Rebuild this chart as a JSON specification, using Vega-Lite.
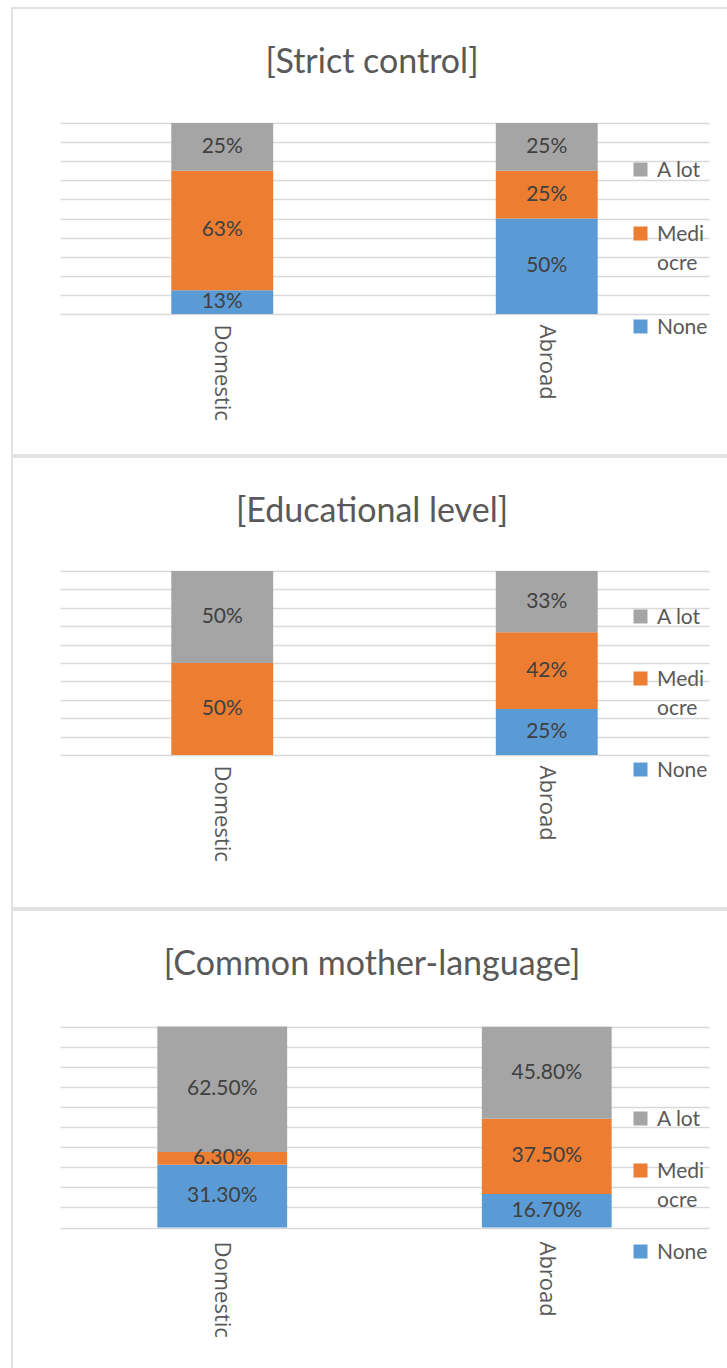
{
  "$schema": "https://vega.github.io/schema/vega-lite/v6.json",
  "background": "white",
  "padding": {"left": 11, "top": 7, "right": 0, "bottom": 0},
  "spacing": 0,
  "resolve": {
    "scale": {"color": "independent", "x": "independent", "y": "independent"},
    "legend": {"color": "independent"}
  },
  "config": {
    "font": "Lato",
    "view": {"stroke": "#d9d9d9", "strokeWidth": 1.5}
  },
  "vconcat": [
    {
      "width": 720,
      "height": 447,
      "title": {"text": "[Strict control]", "orient": "top", "anchor": "middle", "frame": "group", "offset": -99, "baseline": "alphabetic", "font": "Lato", "fontSize": 34, "fontWeight": "normal", "color": "#595959"},
      "data": {"values": [
        {"origin": "Domestic", "level": "None", "share": 0.125},
        {"origin": "Domestic", "level": "Mediocre", "share": 0.625},
        {"origin": "Domestic", "level": "A lot", "share": 0.25},
        {"origin": "Abroad", "level": "None", "share": 0.5},
        {"origin": "Abroad", "level": "Mediocre", "share": 0.25},
        {"origin": "Abroad", "level": "A lot", "share": 0.25}
      ]},
      "layer": [
        {
          "mark": {"type": "bar"},
          "encoding": {
            "x": {"field": "origin", "type": "nominal", "sort": ["Domestic", "Abroad"], "scale": {"range": [48, 697], "paddingInner": 0.686, "paddingOuter": 0.343}, "axis": {"orient": "bottom", "offset": -141, "labelAngle": 90, "labelAlign": "left", "labelBaseline": "middle", "labelPadding": 10, "ticks": false, "domain": false, "title": null, "grid": false, "labelFont": "Open Sans", "labelFontSize": 22, "labelColor": "#595959"}},
            "y": {"field": "share", "type": "quantitative", "stack": "zero", "scale": {"domain": [0, 1], "range": [306, 115], "nice": false}, "axis": {"values": [0, 0.1, 0.2, 0.3, 0.4, 0.5, 0.6, 0.7, 0.8, 0.9, 1], "labels": false, "ticks": false, "domain": false, "title": null, "grid": true, "gridColor": "#d9d9d9", "gridWidth": 1.5}},
            "order": {"field": "level", "type": "ordinal", "sort": "descending"},
            "color": {"field": "level", "type": "nominal", "scale": {"domain": ["A lot", "Mediocre", "None"], "range": ["#a5a5a5", "#ed7d31", "#5b9bd5"]}, "legend": {"title": null, "orient": "none", "legendX": 618, "legendY": 151, "symbolType": "square", "symbolSize": 196, "symbolStrokeWidth": 0, "labelFont": "Lato", "labelFontSize": 21, "labelColor": "#595959", "labelOffset": 6, "rowPadding": 42, "labelBaseline": "alphabetic", "labelExpr": "datum.label == 'Mediocre' ? ['Medi', 'ocre'] : datum.label", "encode": {"labels": {"update": {"dy": {"value": 7}, "lineHeight": {"value": 29}}}}}}
          }
        },
        {
          "mark": {"type": "text", "font": "Lato", "fontSize": 21, "color": "#404040", "baseline": "middle", "align": "center"},
          "encoding": {
            "x": {"field": "origin", "type": "nominal", "sort": ["Domestic", "Abroad"]},
            "y": {"field": "share", "type": "quantitative", "stack": "zero", "bandPosition": 0.5},
            "order": {"field": "level", "type": "ordinal", "sort": "descending"},
            "detail": {"field": "level", "type": "nominal"},
            "text": {"field": "share", "type": "quantitative", "format": ".0%"}
          }
        }
      ]
    },
    {
      "width": 720,
      "height": 451,
      "title": {"text": "[Educational level]", "orient": "top", "anchor": "middle", "frame": "group", "offset": -99, "baseline": "alphabetic", "font": "Lato", "fontSize": 34, "fontWeight": "normal", "color": "#595959"},
      "data": {"values": [
        {"origin": "Domestic", "level": "Mediocre", "share": 0.5},
        {"origin": "Domestic", "level": "A lot", "share": 0.5},
        {"origin": "Abroad", "level": "None", "share": 0.25},
        {"origin": "Abroad", "level": "Mediocre", "share": 0.417},
        {"origin": "Abroad", "level": "A lot", "share": 0.333}
      ]},
      "layer": [
        {
          "mark": {"type": "bar"},
          "encoding": {
            "x": {"field": "origin", "type": "nominal", "sort": ["Domestic", "Abroad"], "scale": {"range": [48, 697], "paddingInner": 0.686, "paddingOuter": 0.343}, "axis": {"orient": "bottom", "offset": -153, "labelAngle": 90, "labelAlign": "left", "labelBaseline": "middle", "labelPadding": 10, "ticks": false, "domain": false, "title": null, "grid": false, "labelFont": "Open Sans", "labelFontSize": 22, "labelColor": "#595959"}},
            "y": {"field": "share", "type": "quantitative", "stack": "zero", "scale": {"domain": [0, 1], "range": [298, 114], "nice": false}, "axis": {"values": [0, 0.1, 0.2, 0.3, 0.4, 0.5, 0.6, 0.7, 0.8, 0.9, 1], "labels": false, "ticks": false, "domain": false, "title": null, "grid": true, "gridColor": "#d9d9d9", "gridWidth": 1.5}},
            "order": {"field": "level", "type": "ordinal", "sort": "descending"},
            "color": {"field": "level", "type": "nominal", "scale": {"domain": ["A lot", "Mediocre", "None"], "range": ["#a5a5a5", "#ed7d31", "#5b9bd5"]}, "legend": {"title": null, "orient": "none", "legendX": 618, "legendY": 149, "symbolType": "square", "symbolSize": 196, "symbolStrokeWidth": 0, "labelFont": "Lato", "labelFontSize": 21, "labelColor": "#595959", "labelOffset": 6, "rowPadding": 40, "labelBaseline": "alphabetic", "labelExpr": "datum.label == 'Mediocre' ? ['Medi', 'ocre'] : datum.label", "encode": {"labels": {"update": {"dy": {"value": 7}, "lineHeight": {"value": 29}}}}}}
          }
        },
        {
          "mark": {"type": "text", "font": "Lato", "fontSize": 21, "color": "#404040", "baseline": "middle", "align": "center"},
          "encoding": {
            "x": {"field": "origin", "type": "nominal", "sort": ["Domestic", "Abroad"]},
            "y": {"field": "share", "type": "quantitative", "stack": "zero", "bandPosition": 0.5},
            "order": {"field": "level", "type": "ordinal", "sort": "descending"},
            "detail": {"field": "level", "type": "nominal"},
            "text": {"field": "share", "type": "quantitative", "format": ".0%"}
          }
        }
      ]
    },
    {
      "width": 720,
      "height": 470,
      "title": {"text": "[Common mother-language]", "orient": "top", "anchor": "middle", "frame": "group", "offset": -99, "baseline": "alphabetic", "font": "Lato", "fontSize": 34, "fontWeight": "normal", "color": "#595959"},
      "data": {"values": [
        {"origin": "Domestic", "level": "None", "share": 0.313},
        {"origin": "Domestic", "level": "Mediocre", "share": 0.063},
        {"origin": "Domestic", "level": "A lot", "share": 0.625},
        {"origin": "Abroad", "level": "None", "share": 0.167},
        {"origin": "Abroad", "level": "Mediocre", "share": 0.375},
        {"origin": "Abroad", "level": "A lot", "share": 0.458}
      ]},
      "layer": [
        {
          "mark": {"type": "bar"},
          "encoding": {
            "x": {"field": "origin", "type": "nominal", "sort": ["Domestic", "Abroad"], "scale": {"range": [48, 697], "paddingInner": 0.6, "paddingOuter": 0.3}, "axis": {"orient": "bottom", "offset": -152, "labelAngle": 90, "labelAlign": "left", "labelBaseline": "middle", "labelPadding": 13, "ticks": false, "domain": false, "title": null, "grid": false, "labelFont": "Open Sans", "labelFontSize": 22, "labelColor": "#595959"}},
            "y": {"field": "share", "type": "quantitative", "stack": "zero", "scale": {"domain": [0, 1], "range": [317.5, 116.7], "nice": false}, "axis": {"values": [0, 0.1, 0.2, 0.3, 0.4, 0.5, 0.6, 0.7, 0.8, 0.9, 1], "labels": false, "ticks": false, "domain": false, "title": null, "grid": true, "gridColor": "#d9d9d9", "gridWidth": 1.5}},
            "order": {"field": "level", "type": "ordinal", "sort": "descending"},
            "color": {"field": "level", "type": "nominal", "scale": {"domain": ["A lot", "Mediocre", "None"], "range": ["#a5a5a5", "#ed7d31", "#5b9bd5"]}, "legend": {"title": null, "orient": "none", "legendX": 618, "legendY": 198, "symbolType": "square", "symbolSize": 196, "symbolStrokeWidth": 0, "labelFont": "Lato", "labelFontSize": 21, "labelColor": "#595959", "labelOffset": 6, "rowPadding": 30, "labelBaseline": "alphabetic", "labelExpr": "datum.label == 'Mediocre' ? ['Medi', 'ocre'] : datum.label", "encode": {"labels": {"update": {"dy": {"value": 7}, "lineHeight": {"value": 29}}}}}}
          }
        },
        {
          "mark": {"type": "text", "font": "Lato", "fontSize": 21, "color": "#404040", "baseline": "middle", "align": "center"},
          "encoding": {
            "x": {"field": "origin", "type": "nominal", "sort": ["Domestic", "Abroad"]},
            "y": {"field": "share", "type": "quantitative", "stack": "zero", "bandPosition": 0.5},
            "order": {"field": "level", "type": "ordinal", "sort": "descending"},
            "detail": {"field": "level", "type": "nominal"},
            "text": {"field": "share", "type": "quantitative", "format": ".2%"}
          }
        }
      ]
    }
  ]
}
